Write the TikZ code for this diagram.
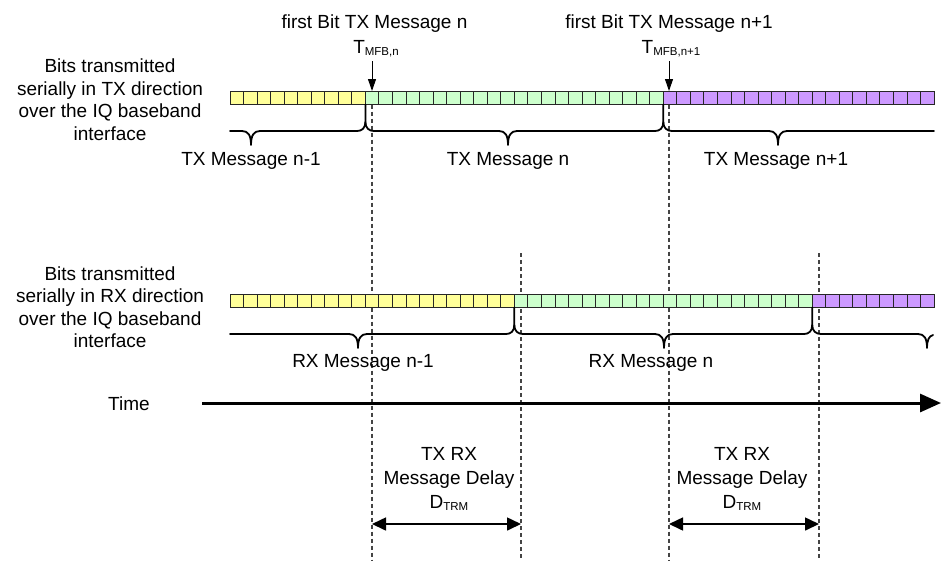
\documentclass[tikz,border=0pt]{standalone}
\usepackage{fontspec}
\setmainfont{Liberation Sans}
\usetikzlibrary{arrows.meta}
\definecolor{bitY}{HTML}{FFFF99}
\definecolor{bitG}{HTML}{CCFFCC}
\definecolor{bitP}{HTML}{CC99FF}
\definecolor{cellline}{HTML}{262626}
\definecolor{dashgray}{HTML}{444444}
\newcommand{\subtxt}[1]{\raisebox{-2pt}{\fontsize{11.5}{12}\selectfont #1}}
\begin{document}
\begin{tikzpicture}[x=1pt,y=-1pt,
  every node/.style={font=\fontsize{19}{22.5}\selectfont, inner sep=0pt},
  lbl/.style={anchor=base},
  cellbox/.style={draw=cellline, line width=0.9pt},
  bracepath/.style={line width=1.8pt, line join=round, line cap=round},
  guide/.style={draw=dashgray, line width=1.1pt, dash pattern=on 4pt off 3pt},
  markarrow/.style={line width=1pt, -{Triangle[length=12pt,width=8pt]}},
  timearrow/.style={line width=3pt, -{Triangle[length=21pt,width=18pt]}},
  delayarrow/.style={line width=1.6pt, {Triangle[length=14pt,width=13pt]}-{Triangle[length=14pt,width=13pt]}}
]
\useasboundingbox (0,0) rectangle (941,560);

% dashed guide lines
\coordinate (g1t) at (372,104.5); \coordinate (g1b) at (372,560);
\coordinate (g2t) at (669,104.5); \coordinate (g2b) at (669,560);
\coordinate (g3t) at (521,253);   \coordinate (g3b) at (521,560);
\coordinate (g4t) at (819,253);   \coordinate (g4b) at (819,560);
\draw[guide] (g1t) -- (g1b);
\draw[guide] (g2t) -- (g2b);
\draw[guide] (g3t) -- (g3b);
\draw[guide] (g4t) -- (g4b);

% TX bits
\foreach \i in {0,...,51} {
  \pgfmathsetmacro\xa{230+\i*13.54}
  \ifnum\i<10 \def\cc{bitY}\else\ifnum\i<32 \def\cc{bitG}\else\def\cc{bitP}\fi\fi
  \filldraw[fill=\cc, cellbox] (\xa,91) rectangle ++(13.54,13.5);
}
% RX bits
\foreach \i in {0,...,51} {
  \pgfmathsetmacro\xa{230+\i*13.54}
  \ifnum\i<21 \def\cc{bitY}\else\ifnum\i<43 \def\cc{bitG}\else\def\cc{bitP}\fi\fi
  \filldraw[fill=\cc, cellbox] (\xa,294) rectangle ++(13.54,13.5);
}

% TX braces
\draw[bracepath] (230,131) -- (242,131) .. controls (248,131) and (251,135) .. (251,145)
  .. controls (251,135) and (254,131) .. (260,131) -- (357,131)
  .. controls (362,131) and (365.4,128) .. (365.4,122) -- (365.4,104.5);
\draw[bracepath] (365.4,122) .. controls (365.4,128) and (369,131) .. (374,131) -- (499,131)
  .. controls (505,131) and (508,135) .. (508,145)
  .. controls (508,135) and (511,131) .. (517,131) -- (655,131)
  .. controls (660,131) and (663.3,128) .. (663.3,122) -- (663.3,104.5);
\draw[bracepath] (663.3,122) .. controls (663.3,128) and (667,131) .. (672,131) -- (769,131)
  .. controls (775,131) and (778,135) .. (778,145)
  .. controls (778,135) and (781,131) .. (787,131) -- (934,131);

% RX braces
\draw[bracepath] (230,334) -- (349,334) .. controls (355,334) and (358,338) .. (358,348)
  .. controls (358,338) and (361,334) .. (367,334) -- (506,334)
  .. controls (511,334) and (514.3,331) .. (514.3,325) -- (514.3,307.5);
\draw[bracepath] (514.3,325) .. controls (514.3,331) and (518,334) .. (523,334) -- (655,334)
  .. controls (661,334) and (664,338) .. (664,348)
  .. controls (664,338) and (667,334) .. (673,334) -- (804,334)
  .. controls (809,334) and (812.2,331) .. (812.2,325) -- (812.2,307.5);
\draw[bracepath] (812.2,325) .. controls (812.2,331) and (816,334) .. (821,334) -- (918,334)
  .. controls (924,334) and (927,338) .. (927,348)
  .. controls (927,340) and (929,336) .. (933,335);

% top labels
\node[lbl] (fbn) at (374.5,28) {first Bit TX Message n};
\node[lbl] (tmfbn) at (376,53) {T\subtxt{MFB,n}};
\node[lbl] (fbn1) at (669,28) {first Bit TX Message n+1};
\node[lbl] (tmfbn1) at (671,53) {T\subtxt{MFB,n+1}};
\coordinate (a1s) at (372,61); \coordinate (a1e) at (372,91);
\coordinate (a2s) at (669,61); \coordinate (a2e) at (669,91);
\draw[markarrow] (a1s) -- (a1e);
\draw[markarrow] (a2s) -- (a2e);

% left labels TX
\node[lbl] (tx1) at (110,72.5) {Bits transmitted};
\node[lbl] (tx2) at (110,95) {serially in TX direction};
\node[lbl] (tx3) at (110,117.5) {over the IQ baseband};
\node[lbl] (tx4) at (110,140) {interface};
% left labels RX
\node[lbl] (rx1) at (110,280) {Bits transmitted};
\node[lbl] (rx2) at (110,302.5) {serially in RX direction};
\node[lbl] (rx3) at (110,325) {over the IQ baseband};
\node[lbl] (rx4) at (110,347.5) {interface};

% message labels
\node[lbl] (txm0) at (251,165) {TX Message n-1};
\node[lbl] (txm1) at (508,165) {TX Message n};
\node[lbl] (txm2) at (776,165) {TX Message n+1};
\node[lbl] (rxm0) at (363,367) {RX Message n-1};
\node[lbl] (rxm1) at (651,367) {RX Message n};

% time axis
\node[lbl] (time) at (129,410) {Time};
\coordinate (tA) at (202,403); \coordinate (tB) at (941,403);
\draw[timearrow] (tA) -- (tB);

% delays
\node[lbl] (d1a) at (449,460) {TX RX};
\node[lbl] (d1b) at (449,484) {Message Delay};
\node[lbl] (d1c) at (449,508) {D\subtxt{TRM}};
\node[lbl] (d2a) at (742,460) {TX RX};
\node[lbl] (d2b) at (742,484) {Message Delay};
\node[lbl] (d2c) at (742,508) {D\subtxt{TRM}};
\coordinate (dl1) at (372,524); \coordinate (dr1) at (521,524);
\coordinate (dl2) at (669,524); \coordinate (dr2) at (819,524);
\draw[delayarrow] (dl1) -- (dr1);
\draw[delayarrow] (dl2) -- (dr2);
\end{tikzpicture}
\end{document}
